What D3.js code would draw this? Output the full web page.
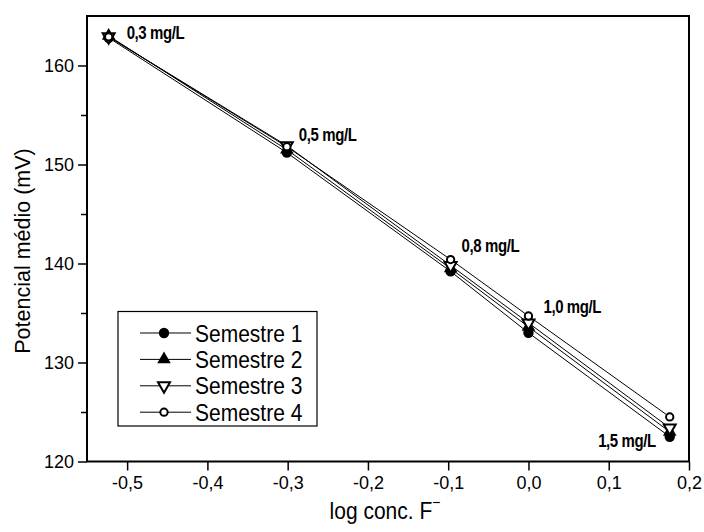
<!DOCTYPE html>
<html>
<head>
<meta charset="utf-8">
<script src="https://cdn.jsdelivr.net/npm/d3@7"></script>
<style>
  body { margin: 0; background: #fff; }
  svg { display: block; font-family: "Liberation Sans", Arial, sans-serif; }
</style>
</head>
<body>
<svg width="704" height="532"></svg>
<script>
// data
var concLabels = ["0,3 mg/L", "0,5 mg/L", "0,8 mg/L", "1,0 mg/L", "1,5 mg/L"];
var logConc = [-0.523, -0.301, -0.097, 0.0, 0.176];
var semestre1 = [162.8, 151.2, 139.2, 133.0, 122.5];
var semestre2 = [163.0, 151.5, 139.5, 133.6, 123.0];
var semestre3 = [162.9, 151.9, 139.8, 134.0, 123.4];
var semestre4 = [162.9, 151.8, 140.4, 134.7, 124.5];
var seriesNames = ["Semestre 1", "Semestre 2", "Semestre 3", "Semestre 4"];
var xTicks = [-0.5, -0.4, -0.3, -0.2, -0.1, 0.0, 0.1, 0.2];
var yTicks = [120, 130, 140, 150, 160];
var yMinor = [125, 135, 145, 155];

var svg = d3.select("svg");

var x = d3.scaleLinear().domain([-0.55, 0.2]).range([87, 689]);
var y = d3.scaleLinear().domain([120, 165]).range([461.5, 16]);

var comma = d3.formatLocale({decimal: ",", thousands: ".", grouping: [3], currency: ["", ""], minus: "-"});
var fmt = comma.format(".1f");

// text in the original looks a bit stretched vertically
var stretch = 1.18;
function tallText(sel, tx, ty) {
  return sel.attr("transform", "translate(" + tx + "," + ty + ") scale(1," + stretch + ")");
}

var allSeries = [semestre1, semestre2, semestre3, semestre4];
// marker style per series
var markers = [
  {type: d3.symbolCircle, size: 85, fill: "#000", stroke: "none", rot: 0},
  {type: d3.symbolTriangle, size: 80, fill: "#000", stroke: "none", rot: 0},
  {type: d3.symbolTriangle, size: 62, fill: "#fff", stroke: "#000", rot: 180},
  {type: d3.symbolCircle, size: 42, fill: "#fff", stroke: "#000", rot: 0}
];

// axes
svg.append("g")
    .attr("transform", "translate(0," + y.range()[0] + ")")
    .call(d3.axisBottom(x).tickValues(xTicks).tickFormat(function(d) { return fmt(d); })
      .tickSize(9).tickSizeOuter(0).tickPadding(6));

svg.append("g")
    .attr("transform", "translate(" + x.range()[0] + ",0)")
    .call(d3.axisLeft(y).tickValues(yTicks).tickFormat(d3.format("d"))
      .tickSize(9).tickSizeOuter(0).tickPadding(4));

svg.append("g")
    .attr("transform", "translate(" + x.range()[0] + ",0)")
    .call(d3.axisLeft(y).tickValues(yMinor).tickFormat("").tickSize(6).tickSizeOuter(0))
    .select(".domain").remove();

svg.selectAll(".tick text").attr("font-size", 18).attr("font-family", "Liberation Sans, Arial, sans-serif").attr("fill", "#000");
svg.selectAll(".tick line").attr("stroke", "#000").attr("stroke-width", 1.5);
svg.selectAll(".domain").remove();

// frame
svg.append("rect")
    .attr("x", x.range()[0]).attr("y", y.range()[1])
    .attr("width", x.range()[1] - x.range()[0])
    .attr("height", y.range()[0] - y.range()[1])
    .attr("fill", "none").attr("stroke", "#000").attr("stroke-width", 2);

// lines
var line = d3.line()
    .x(function(d, i) { return x(logConc[i]); })
    .y(function(d) { return y(d); });

svg.selectAll(".series")
    .data(allSeries)
  .enter().append("path")
    .attr("class", "series")
    .attr("d", line)
    .attr("fill", "none")
    .attr("stroke", "#000")
    .attr("stroke-width", 1);

// markers
allSeries.forEach(function(vals, s) {
  var m = markers[s];
  svg.selectAll(".m" + s)
      .data(vals)
    .enter().append("path")
      .attr("class", "m" + s)
      .attr("d", d3.symbol().type(m.type).size(m.size))
      .attr("transform", function(d, i) { return "translate(" + x(logConc[i]) + "," + y(d) + ") rotate(" + m.rot + ")"; })
      .attr("fill", m.fill)
      .attr("stroke", m.stroke)
      .attr("stroke-width", 2);
});

// concentration labels, placed next to Semestre 4 point
var labelOffsets = [[18, 2, "start"], [12, -6, "start"], [11, -8, "start"], [15, -3, "start"], [-14, 30, "end"]];
concLabels.forEach(function(lbl, i) {
  var t = svg.append("text")
      .attr("class", "conc")
      .attr("text-anchor", labelOffsets[i][2])
      .attr("font-size", 15)
      .attr("font-weight", "bold")
      .attr("letter-spacing", -0.4)
      .text(lbl);
  tallText(t, x(logConc[i]) + labelOffsets[i][0], y(semestre4[i]) + labelOffsets[i][1]);
});

// axis titles
svg.append("text")
    .attr("transform", "translate(30,251) rotate(-90)")
    .attr("text-anchor", "middle")
    .attr("font-size", 21.5)
    .text("Potencial médio (mV)");

var xt = svg.append("text")
    .attr("text-anchor", "middle")
    .attr("font-size", 21);
xt.append("tspan").text("log conc. F");
xt.append("tspan").attr("dy", -9).attr("font-size", 14).text("\u2212");
tallText(xt, 385, 519);

// legend
var legend = svg.append("g");
legend.append("rect")
    .attr("x", 118).attr("y", 311.5).attr("width", 199).attr("height", 114.5)
    .attr("fill", "#fff").attr("stroke", "#000").attr("stroke-width", 1.2);

seriesNames.forEach(function(name, s) {
  var ly = 333 + s * 26.4;
  var m = markers[s];
  legend.append("line")
      .attr("x1", 140).attr("x2", 191).attr("y1", ly).attr("y2", ly)
      .attr("stroke", "#000").attr("stroke-width", 1);
  legend.append("path")
      .attr("d", d3.symbol().type(m.type).size(m.size))
      .attr("transform", "translate(164," + ly + ") rotate(" + m.rot + ")")
      .attr("fill", m.fill).attr("stroke", m.stroke).attr("stroke-width", 2);
  var t = legend.append("text")
      .attr("font-size", 21)
      .text(name);
  tallText(t, 195, ly + 8.5);
});
</script>
</body>
</html>
